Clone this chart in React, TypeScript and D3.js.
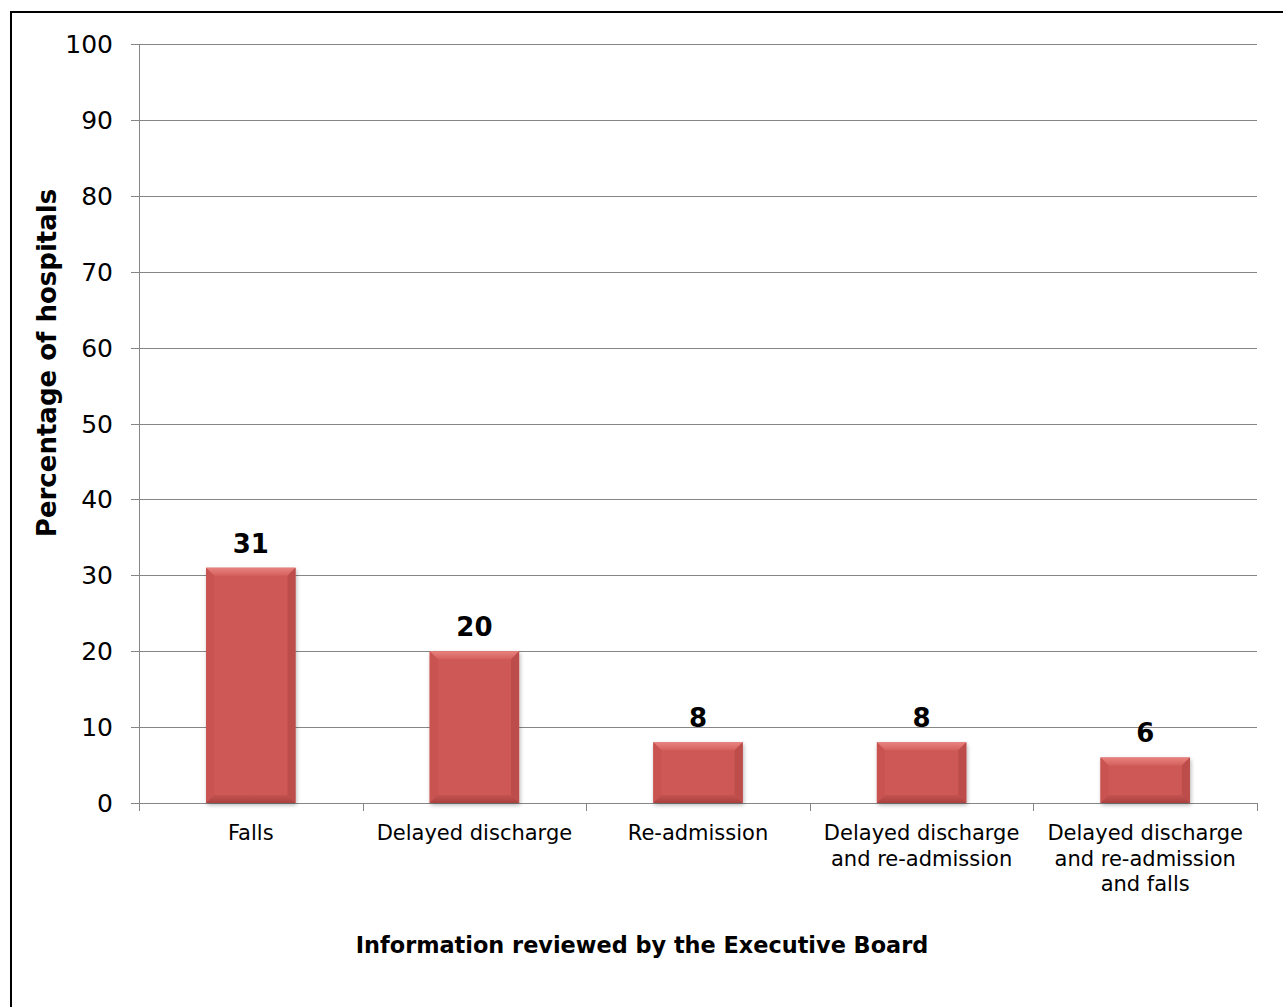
import React from "react";
import * as d3 from "d3";

const categories: string[][] = [
  ["Falls"],
  ["Delayed discharge"],
  ["Re-admission"],
  ["Delayed discharge", "and re-admission"],
  ["Delayed discharge", "and re-admission", "and falls"],
];
const values: number[] = [31, 20, 8, 8, 6];
const yTicks: number[] = [0, 10, 20, 30, 40, 50, 60, 70, 80, 90, 100];
const yTitle = "Percentage of hospitals";
const xTitle = "Information reviewed by the Executive Board";

const W = 1283;
const H = 1007;
const L = 139;
const R = 1257;
const T = 44;
const B = 803;
const FONT = "Verdana, 'DejaVu Sans', sans-serif";

export default function App() {
  const ids = categories.map((_, i) => String(i));
  const x = d3.scaleBand<string>().domain(ids).range([L, R]).paddingInner(0.6).paddingOuter(0.3);
  const xc = d3.scaleBand<string>().domain(ids).range([L, R]).padding(0);
  const y = d3.scaleLinear().domain([0, 100]).range([B, T]);
  const bv = 8;

  return (
    <svg width={W} height={H} style={{ position: "absolute", left: 0, top: 0 }} fontFamily={FONT}>
      <defs>
        <filter id="sh" x="-20%" y="-20%" width="140%" height="140%">
          <feGaussianBlur in="SourceAlpha" stdDeviation="2" />
          <feOffset dx="1" dy="2" result="b" />
          <feComponentTransfer><feFuncA type="linear" slope="0.3" /></feComponentTransfer>
          <feMerge><feMergeNode /><feMergeNode in="SourceGraphic" /></feMerge>
        </filter>
        <linearGradient id="topg" x1="0" y1="0" x2="0" y2="1">
          <stop offset="0" stopColor="#E8837F" />
          <stop offset="1" stopColor="#D4605D" />
        </linearGradient>
        <linearGradient id="botg" x1="0" y1="0" x2="0" y2="1">
          <stop offset="0" stopColor="#C4524F" />
          <stop offset="1" stopColor="#A94240" />
        </linearGradient>
      </defs>
      <rect x={0} y={0} width={W} height={H} fill="#fff" />
      <rect x={11} y={12} width={W + 20} height={H + 20} fill="#fff" stroke="#000" strokeWidth={2} />
      {yTicks.map((t) => (
        <g key={t}>
          <line x1={L - 8} x2={R} y1={Math.round(y(t)) + 0.5} y2={Math.round(y(t)) + 0.5} stroke="#868686" strokeWidth={1} />
          <text x={113} y={y(t) + 9} textAnchor="end" fontSize={25} fill="#000">{t}</text>
        </g>
      ))}
      <line x1={L + 0.5} x2={L + 0.5} y1={T} y2={B} stroke="#868686" />
      {d3.range(categories.length + 1).map((i) => {
        const xx = Math.round(L + i * xc.step()) + 0.5;
        return <line key={i} x1={xx} x2={xx} y1={B} y2={B + 8} stroke="#868686" />;
      })}
      {values.map((v, i) => {
        const x0 = x(ids[i])!;
        const w = x.bandwidth();
        const y0 = y(v);
        const y1 = y(0);
        const x1 = x0 + w;
        return (
          <g key={i}>
            <rect x={x0} y={y0} width={w} height={y1 - y0} fill="#CD5855" filter="url(#sh)" />
            <polygon points={`${x0},${y0} ${x1},${y0} ${x1 - bv},${y0 + bv} ${x0 + bv},${y0 + bv}`} fill="url(#topg)" />
            <polygon points={`${x0},${y0} ${x0 + bv},${y0 + bv} ${x0 + bv},${y1 - bv} ${x0},${y1}`} fill="#C95350" />
            <polygon points={`${x1},${y0} ${x1 - bv},${y0 + bv} ${x1 - bv},${y1 - bv} ${x1},${y1}`} fill="#BC4D4A" />
            <polygon points={`${x0},${y1} ${x1},${y1} ${x1 - bv},${y1 - bv} ${x0 + bv},${y1 - bv}`} fill="url(#botg)" />
            <text x={x0 + w / 2} y={y0 - 15} textAnchor="middle" fontSize={26} fontWeight="bold" fill="#000">{v}</text>
          </g>
        );
      })}
      {categories.map((lines, i) => (
        <text key={i} textAnchor="middle" fontSize={21} fill="#000">
          {lines.map((ln, j) => (
            <tspan key={j} x={xc(ids[i])! + xc.bandwidth() / 2} y={840 + j * 25.5}>{ln}</tspan>
          ))}
        </text>
      ))}
      <text transform={`translate(56,${363}) rotate(-90)`} textAnchor="middle" fontSize={26} fontWeight="bold" fill="#000">{yTitle}</text>
      <text x={642} y={953} textAnchor="middle" fontSize={22.4} fontWeight="bold" fill="#000">{xTitle}</text>
    </svg>
  );
}
